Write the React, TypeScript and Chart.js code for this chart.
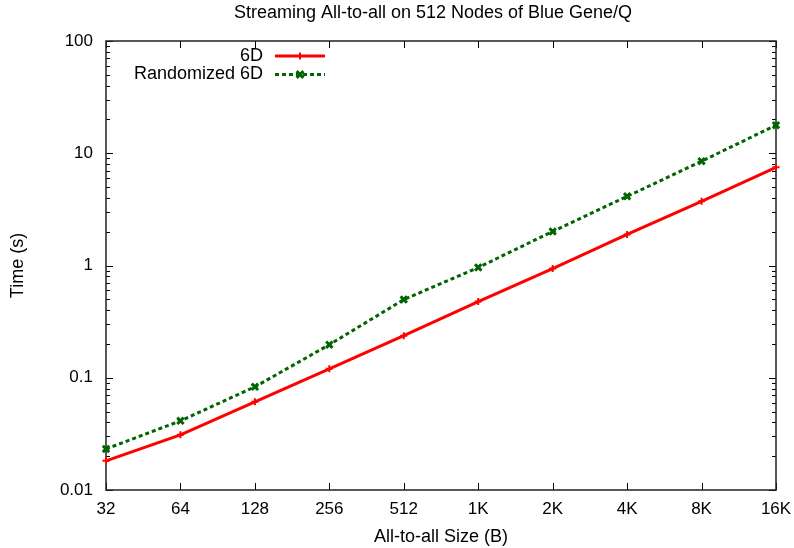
import React, { useEffect, useRef } from "react";
import { Chart, registerables } from "chart.js";

Chart.register(...registerables);

const sizes = ["32", "64", "128", "256", "512", "1K", "2K", "4K", "8K", "16K"];
const time6D = [0.0182, 0.031, 0.061, 0.12, 0.237, 0.477, 0.94, 1.89, 3.73, 7.5];
const timeRandomized6D = [0.0232, 0.0413, 0.083, 0.197, 0.497, 0.96, 2.01, 4.13, 8.49, 17.8];
const yDecades = [0.01, 0.1, 1, 10, 100];
const chartTitle = "Streaming All-to-all on 512 Nodes of Blue Gene/Q";
const xTitle = "All-to-all Size (B)";
const yTitle = "Time (s)";

const FONT = "'Liberation Sans', Arial, Helvetica, sans-serif";

const framePlugin = {
  id: "gnuFrame",
  beforeDatasetsDraw(chart: any) {
    const { ctx, chartArea: a, scales } = chart;
    const x = scales.x;
    const y = scales.y;
    ctx.save();
    ctx.strokeStyle = "#000";
    ctx.lineWidth = 1;
    ctx.beginPath();
    sizes.forEach((_, i) => {
      const px = Math.round(x.getPixelForValue(i)) + 0.5;
      ctx.moveTo(px, a.bottom);
      ctx.lineTo(px, a.bottom - 7);
      ctx.moveTo(px, a.top);
      ctx.lineTo(px, a.top + 7);
    });
    for (let d = 0; d < yDecades.length; d++) {
      const base = yDecades[d];
      for (let m = 1; m <= 9; m++) {
        const v = base * m;
        if (v > yDecades[yDecades.length - 1] + 1e-9) break;
        const py = Math.round(y.getPixelForValue(v)) + 0.5;
        const len = m === 1 ? 7 : 4;
        ctx.moveTo(a.left, py);
        ctx.lineTo(a.left + len, py);
        ctx.moveTo(a.right, py);
        ctx.lineTo(a.right - len, py);
      }
    }
    ctx.stroke();
    ctx.strokeStyle = "#222";
    ctx.lineWidth = 1.5;
    ctx.strokeRect(a.left, a.top, a.right - a.left, a.bottom - a.top);
    ctx.restore();
  },
  afterDraw(chart: any) {
    const { ctx, chartArea: a } = chart;
    ctx.save();
    ctx.fillStyle = "#000";
    ctx.font = `18px ${FONT}`;
    ctx.textAlign = "center";
    ctx.textBaseline = "middle";
    ctx.fillText(chartTitle, 433, 13);
    ctx.font = `18px ${FONT}`;
    ctx.textAlign = "right";
    chart.data.datasets.forEach((ds: any, i: number) => {
      const ly = 56 + i * 18.5;
      ctx.fillStyle = "#000";
      ctx.fillText(ds.label, a.left + 157, ly);
      ctx.strokeStyle = ds.borderColor;
      ctx.lineWidth = ds.borderWidth;
      ctx.setLineDash(ds.borderDash || []);
      ctx.beginPath();
      ctx.moveTo(a.left + 169, ly);
      ctx.lineTo(a.left + 219, ly);
      ctx.stroke();
      ctx.setLineDash([]);
      ctx.lineWidth = ds.pointBorderWidth;
      const cx = a.left + 194;
      const r = ds.pointRadius;
      ctx.beginPath();
      if (ds.pointStyle === "cross") {
        ctx.moveTo(cx - r, ly);
        ctx.lineTo(cx + r, ly);
        ctx.moveTo(cx, ly - r);
        ctx.lineTo(cx, ly + r);
      } else {
        const d = r * 0.75;
        ctx.moveTo(cx - d, ly - d);
        ctx.lineTo(cx + d, ly + d);
        ctx.moveTo(cx - d, ly + d);
        ctx.lineTo(cx + d, ly - d);
      }
      ctx.stroke();
    });
    ctx.restore();
  },
};

export default function App() {
  const ref = useRef<HTMLCanvasElement>(null);
  useEffect(() => {
    document.body.style.margin = "0";
    const chart = new Chart(ref.current as HTMLCanvasElement, {
      type: "line",
      data: {
        labels: sizes,
        datasets: [
          {
            label: "6D",
            data: time6D,
            borderColor: "#ff0000",
            backgroundColor: "#ff0000",
            borderWidth: 3,
            pointStyle: "cross",
            pointRadius: 3.5,
            pointBorderWidth: 2,
            pointBorderColor: "#ff0000",
            tension: 0,
            clip: false,
          } as any,
          {
            label: "Randomized 6D",
            data: timeRandomized6D,
            borderColor: "#006400",
            backgroundColor: "#006400",
            borderWidth: 3,
            borderDash: [4, 3],
            pointStyle: "crossRot",
            pointRadius: 4.5,
            pointBorderWidth: 3,
            pointBorderColor: "#006400",
            tension: 0,
            clip: false,
          } as any,
        ],
      },
      options: {
        responsive: false,
        animation: false,
        devicePixelRatio: 1,
        layout: { padding: { top: 41, right: 18, bottom: 0, left: 0 } },
        plugins: {
          legend: { display: false },
          title: { display: false },
          tooltip: { enabled: false },
        },
        scales: {
          x: {
            type: "category",
            offset: false,
            grid: { display: false, drawTicks: false },
            border: { display: false },
            ticks: {
              color: "#000",
              font: { family: FONT, size: 17 },
              padding: 9,
              maxRotation: 0,
              autoSkip: false,
            },
            title: {
              display: true,
              text: xTitle,
              color: "#000",
              font: { family: FONT, size: 18 },
              padding: { top: 2, bottom: 0 },
            },
            afterFit(scale: any) {
              scale.height = 58;
              scale.paddingLeft = 0;
              scale.paddingRight = 0;
            },
          },
          y: {
            type: "logarithmic",
            min: 0.01,
            max: 100,
            grid: { display: false, drawTicks: false },
            border: { display: false },
            afterBuildTicks(scale: any) {
              scale.ticks = yDecades.map((v) => ({ value: v }));
            },
            ticks: {
              color: "#000",
              font: { family: FONT, size: 17 },
              padding: 13,
              callback: (v: any) => String(v),
            },
            title: {
              display: true,
              text: yTitle,
              color: "#000",
              font: { family: FONT, size: 18 },
              padding: { top: 7, bottom: 4 },
            },
            afterFit(scale: any) {
              scale.width = 106;
              scale.paddingTop = 0;
              scale.paddingBottom = 0;
            },
          },
        },
      },
      plugins: [framePlugin],
    });
    return () => chart.destroy();
  }, []);
  return (
    <canvas
      ref={ref}
      width={794}
      height={548}
      style={{ display: "block", width: 794, height: 548 }}
    />
  );
}
